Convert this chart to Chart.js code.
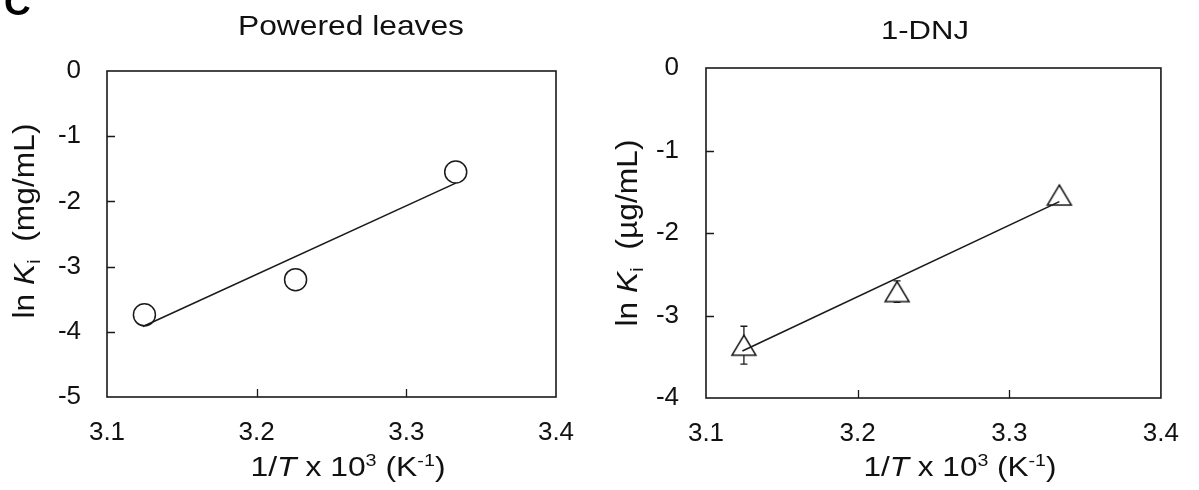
<!DOCTYPE html>
<html><head><meta charset="utf-8">
<script src="https://cdn.jsdelivr.net/npm/chart.js@4.4.1/dist/chart.umd.min.js"></script>
<style>
html,body{margin:0;padding:0;background:#fff;width:1199px;height:490px;overflow:hidden;}
#wrap{position:relative;width:1199px;height:490px;background:#fff;}
canvas{position:absolute;top:0;}
#c1{left:0;} #c2{left:600px;}
#panel{position:absolute;left:4px;top:-15px;font:bold 37px "Liberation Sans",Arial,sans-serif;line-height:36px;color:#000;}
</style></head><body>
<div id="wrap">
<canvas id="c1" width="600" height="490"></canvas>
<canvas id="c2" width="599" height="490"></canvas>
<div id="panel">C</div>
</div>
<script>
// ---- data ----
const invT = [3.125, 3.226, 3.333];
const lnKiLeaves = [-3.74, -3.20, -1.55];
const lnKiDNJ = [-3.36, -2.71, -1.54];
const errLeaves = [0, 0, 0];
const errDNJ = [0.23, 0.13, 0];
const fitX = [3.124, 3.333];
const fitLeaves = [-3.92, -1.72];
const fitDNJ = [-3.43, -1.62];
const xTicks = [3.1, 3.2, 3.3, 3.4];
const xTickLabels = ['3.1', '3.2', '3.3', '3.4'];
const yTicksLeaves = [0, -1, -2, -3, -4, -5];
const yTickLabelsLeaves = ['0', '-1', '-2', '-3', '-4', '-5'];
const yTicksDNJ = [0, -1, -2, -3, -4];
const yTickLabelsDNJ = ['0', '-1', '-2', '-3', '-4'];
const titleLeaves = 'Powered leaves';
const titleDNJ = '1-DNJ';
const xTitleRuns = [['1/', ''], ['T', 'it'], [' x 10', ''], ['3', 'sup'], [' (K', ''], ['-1', 'sup'], [')', '']];
const yTitleLeaves = [['ln ', ''], ['K', 'it'], ['i', 'sub'], ['  (mg/mL)', '']];
const yTitleDNJ = [['ln ', ''], ['K', 'it'], ['i', 'sub'], ['  (\u00b5g/mL)', '']];

// ---- style ----
const FONT = '"Liberation Sans", Arial, Helvetica, sans-serif';
const INK = '#1a1a1a';
const TEXT = '#111';

function runFont(style, size) {
  const s = (style === 'sup' || style === 'sub') ? size * 0.62 : size;
  return (style === 'it' ? 'italic ' : '') + s + 'px ' + FONT;
}
function runsWidth(ctx, runs, size) {
  let w = 0;
  for (const [t, st] of runs) { ctx.font = runFont(st, size); w += ctx.measureText(t).width; }
  return w;
}
function drawRuns(ctx, runs, x, y, size, rotate, targetW) {
  ctx.save();
  const w = runsWidth(ctx, runs, size);
  const k = targetW ? targetW / w : 1;
  ctx.translate(x, y);
  if (rotate) ctx.rotate(-Math.PI / 2);
  ctx.scale(k, 1);
  ctx.fillStyle = TEXT;
  ctx.textBaseline = 'alphabetic';
  ctx.textAlign = 'left';
  let cx = -w / 2;
  for (const [t, st] of runs) {
    ctx.font = runFont(st, size);
    const dy = st === 'sup' ? -size * 0.36 : (st === 'sub' ? size * 0.2 : 0);
    ctx.fillText(t, cx, dy);
    cx += ctx.measureText(t).width;
  }
  ctx.restore();
}

function triangleImage(w, h, lw) {
  const c = document.createElement('canvas');
  c.width = w + 4; c.height = h + 4;
  const g = c.getContext('2d');
  g.strokeStyle = INK; g.fillStyle = '#fff'; g.lineWidth = lw; g.lineJoin = 'miter';
  const cx = c.width / 2, cy = c.height / 2;
  g.beginPath();
  g.moveTo(cx, cy - h / 2);
  g.lineTo(cx + w / 2, cy + h / 2);
  g.lineTo(cx - w / 2, cy + h / 2);
  g.closePath();
  g.fill();
  g.stroke();
  return c;
}

const framePlugin = {
  id: 'frame',
  beforeDatasetsDraw(chart, args, o) {
    const {ctx, scales: {x, y}} = chart;
    ctx.save();
    ctx.strokeStyle = INK; ctx.lineWidth = 1.3;
    o.err.forEach((e, i) => {
      if (!e) return;
      const px = x.getPixelForValue(o.xs[i]);
      const p1 = y.getPixelForValue(o.ys[i] + e), p2 = y.getPixelForValue(o.ys[i] - e);
      ctx.beginPath();
      ctx.moveTo(px, p1); ctx.lineTo(px, p2);
      ctx.moveTo(px - 3.5, p1); ctx.lineTo(px + 3.5, p1);
      ctx.moveTo(px - 3.5, p2); ctx.lineTo(px + 3.5, p2);
      ctx.stroke();
    });
    ctx.restore();
  },
  afterDraw(chart, args, o) {
    const {ctx, chartArea: a, scales: {x, y}} = chart;
    ctx.save();
    ctx.strokeStyle = INK; ctx.lineWidth = 1.6;
    ctx.strokeRect(a.left, a.top, a.width, a.height);
    ctx.lineWidth = 1.3;
    ctx.beginPath();
    o.yTicks.forEach(v => {
      if (v === y.min || v === y.max) return;
      const py = Math.round(y.getPixelForValue(v)) + 0.5;
      ctx.moveTo(a.left, py); ctx.lineTo(a.left + 8, py);
    });
    xTicks.forEach(v => {
      if (v === x.min || v === x.max) return;
      const px = Math.round(x.getPixelForValue(v)) + 0.5;
      ctx.moveTo(px, a.bottom); ctx.lineTo(px, a.bottom - 8);
    });
    ctx.stroke();
    ctx.restore();
    // texts
    drawRuns(ctx, [[o.title.text, '']], o.title.x, o.title.y, o.title.size, false, o.title.w);
    drawRuns(ctx, xTitleRuns, o.xTitle.x, o.xTitle.y, o.xTitle.size, false, o.xTitle.w);
    drawRuns(ctx, o.yTitle.runs, o.yTitle.x, o.yTitle.y, o.yTitle.size, true, o.yTitle.w);
  }
};

function makeChart(id, c) {
  return new Chart(document.getElementById(id), {
    type: 'scatter',
    data: {
      datasets: [
        {
          data: invT.map((v, i) => ({x: v, y: c.ys[i]})),
          pointStyle: c.pointStyle, pointRadius: c.r,
          pointBorderColor: INK, pointBackgroundColor: '#fff', pointBorderWidth: 1.5,
          borderColor: INK, showLine: false, order: 2
        },
        {
          data: fitX.map((v, i) => ({x: v, y: c.fit[i]})),
          showLine: true, pointRadius: 0, borderColor: INK, borderWidth: 1.6, fill: false, order: 1
        }
      ]
    },
    options: {
      responsive: false, animation: false, devicePixelRatio: 1,
      layout: {padding: {top: c.top, right: c.right, bottom: 0, left: 0}},
      plugins: {
        legend: {display: false}, tooltip: {enabled: false}, title: {display: false},
        frame: {err: c.err, xs: invT, ys: c.ys, yTicks: c.yTicks, title: c.title, xTitle: c.xTitle, yTitle: c.yTitle}
      },
      scales: {
        x: {
          type: 'linear', min: 3.1, max: 3.4,
          afterBuildTicks: s => { s.ticks = xTicks.map(v => ({value: v})); },
          afterFit: s => { s.height = c.xh; },
          grid: {display: false, drawTicks: false}, border: {display: false},
          ticks: {padding: 20, color: TEXT, font: {family: FONT, size: 26}, maxRotation: 0,
                  callback: (v, i) => xTickLabels[i]}
        },
        y: {
          type: 'linear', min: c.yTicks[c.yTicks.length - 1], max: 0,
          afterBuildTicks: s => { s.ticks = c.yTicks.slice().reverse().map(v => ({value: v})); },
          afterFit: s => { s.width = c.yw; },
          grid: {display: false, drawTicks: false}, border: {display: false},
          ticks: {padding: c.ypad, color: TEXT, font: {family: FONT, size: 26},
                  callback: (v) => c.yLabels[c.yTicks.indexOf(v)]}
        }
      }
    },
    plugins: [framePlugin]
  });
}

makeChart('c1', {
  ys: lnKiLeaves, fit: fitLeaves, err: errLeaves, pointStyle: 'circle', r: 11,
  yTicks: yTicksLeaves, yLabels: yTickLabelsLeaves,
  top: 71, right: 44, xh: 93, yw: 107, ypad: 26,
  title: {text: titleLeaves, x: 351, y: 35, size: 28, w: 226},
  xTitle: {x: 348, y: 476, size: 28, w: 195},
  yTitle: {runs: yTitleLeaves, x: 34, y: 221, size: 30, w: 195}
});
makeChart('c2', {
  ys: lnKiDNJ, fit: fitDNJ, err: errDNJ, pointStyle: triangleImage(24, 20, 1.5), r: 11,
  yTicks: yTicksDNJ, yLabels: yTickLabelsDNJ,
  top: 68, right: 34, xh: 92, yw: 106, ypad: 27,
  title: {text: titleDNJ, x: 325, y: 39, size: 25, w: 88},
  xTitle: {x: 360, y: 476, size: 28, w: 193},
  yTitle: {runs: yTitleDNJ, x: 37, y: 233, size: 30, w: 187}
});
</script>
</body></html>
